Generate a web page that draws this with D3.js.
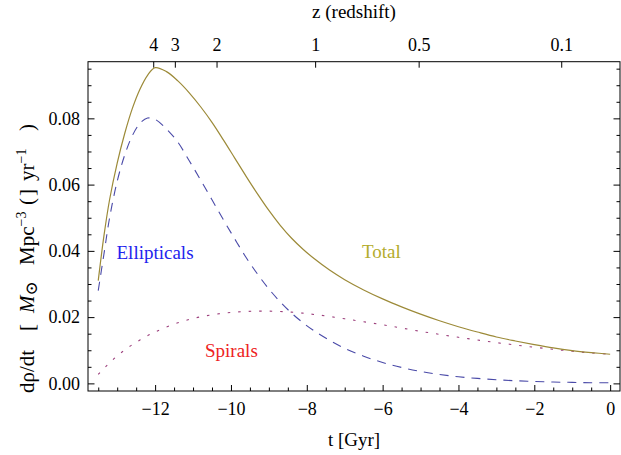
<!DOCTYPE html>
<html>
<head>
<meta charset="utf-8">
<script src="https://cdn.jsdelivr.net/npm/d3@7/dist/d3.min.js"></script>
<style>
  body { margin: 0; background: #fff; }
  svg text { font-family: "Liberation Serif", "DejaVu Serif", serif; }
</style>
</head>
<body>
<svg id="sfr_chart" width="621" height="455"></svg>
<script>
// lookback time t [Gyr]
var tGyr = [-13.5, -13.35, -13.2, -13.0, -12.8, -12.6, -12.4, -12.2, -12.0, -11.7, -11.4, -11.1, -10.8, -10.5, -10.2, -9.9, -9.6, -9.3, -9.0, -8.7, -8.4, -8.1, -7.8, -7.4, -7.0, -6.5, -6.0, -5.5, -5.0, -4.5, -4.0, -3.5, -3.0, -2.5, -2.0, -1.5, -1.0, -0.5, 0]

var total = [0.031, 0.0445, 0.0555, 0.0665, 0.0755, 0.0830, 0.0888, 0.0930, 0.0953, 0.0941, 0.0913, 0.0877, 0.0835, 0.0788, 0.0735, 0.0680, 0.0625, 0.0572, 0.0522, 0.0477, 0.0438, 0.0405, 0.0376, 0.0342, 0.0313, 0.0282, 0.0255, 0.0231, 0.0209, 0.0189, 0.0171, 0.0155, 0.0140, 0.0128, 0.0117, 0.0107, 0.0099, 0.0093, 0.0088]

var ellipticals = [0.028, 0.039, 0.050, 0.061, 0.069, 0.0748, 0.0785, 0.0801, 0.0797, 0.0768, 0.0728, 0.0672, 0.0614, 0.0554, 0.0494, 0.0436, 0.0380, 0.0330, 0.0285, 0.0246, 0.0212, 0.0183, 0.0158, 0.0130, 0.0106, 0.0082, 0.0063, 0.0048, 0.0036, 0.0027, 0.0020, 0.0015, 0.0011, 0.0008, 0.0006, 0.0004, 0.0003, 0.0002, 0.0002]

var spirals = [0.0027, 0.0045, 0.0062, 0.0083, 0.0101, 0.0117, 0.0131, 0.0144, 0.0155, 0.0170, 0.0183, 0.0193, 0.0201, 0.0207, 0.0212, 0.0215, 0.0217, 0.0218, 0.0218, 0.0217, 0.0215, 0.0212, 0.0208, 0.0202, 0.0195, 0.0186, 0.0177, 0.0167, 0.0157, 0.0148, 0.0139, 0.0131, 0.0123, 0.0116, 0.0109, 0.0103, 0.0097, 0.0092, 0.0088]

// axis ticks
var xMajor = [-12, -10, -8, -6, -4, -2, 0]
var yMajor = [0, 0.02, 0.04, 0.06, 0.08]
var zLabels = ['4', '3', '2', '1', '0.5', '0.1']
var zAtT = [-12.05, -11.48, -10.38, -7.78, -5.05, -1.29]

var svg = d3.select('#sfr_chart')
var serif = '"Liberation Serif", "DejaVu Serif", serif'

var plotL = 88, plotR = 620, plotT = 61.7, plotB = 391

var x = d3.scaleLinear().domain([-13.77, 0.26]).range([plotL, plotR])
var y = d3.scaleLinear().domain([-0.0023, 0.0971]).range([plotB, plotT])

var xMinor = d3.range(-13.5, 0.01, 0.5).filter(function (v) { return Math.abs(v % 2) > 0.01 })
var yMinor = d3.range(0, 0.0971, 0.005).filter(function (v) { return Math.round(v * 1000) % 20 !== 0 })

function fmtMinus (v) { return v < 0 ? '\u2212' + Math.abs(v) : '' + v }

/** bottom axis */
svg.append('g').attr('transform', 'translate(0,' + plotB + ')')
  .call(d3.axisBottom(x).tickValues(xMajor).tickFormat(fmtMinus).tickSizeInner(-6).tickSizeOuter(0).tickPadding(11.5))
svg.append('g').attr('transform', 'translate(0,' + plotB + ')')
  .call(d3.axisBottom(x).tickValues(xMinor).tickFormat('').tickSizeInner(-3.5).tickSizeOuter(0))

/** top axis (redshift) */
svg.append('g').attr('transform', 'translate(0,' + plotT + ')')
  .call(d3.axisTop(x).tickValues(zAtT).tickFormat(function (d, i) { return zLabels[i] }).tickSizeInner(-6).tickSizeOuter(0).tickPadding(11))

/** left axis */
svg.append('g').attr('transform', 'translate(' + plotL + ',0)')
  .call(d3.axisLeft(y).tickValues(yMajor).tickFormat(d3.format('.2f')).tickSizeInner(-6.5).tickSizeOuter(0).tickPadding(8))
svg.append('g').attr('transform', 'translate(' + plotL + ',0)')
  .call(d3.axisLeft(y).tickValues(yMinor).tickFormat('').tickSizeInner(-3.5).tickSizeOuter(0))

/** right axis, ticks only */
svg.append('g').attr('transform', 'translate(' + plotR + ',0)')
  .call(d3.axisRight(y).tickValues(yMajor).tickFormat('').tickSizeInner(-6.5).tickSizeOuter(0))
svg.append('g').attr('transform', 'translate(' + plotR + ',0)')
  .call(d3.axisRight(y).tickValues(yMinor).tickFormat('').tickSizeInner(-3.5).tickSizeOuter(0))

svg.selectAll('.domain').remove()
svg.selectAll('g').attr('font-family', null).attr('font-size', null)
svg.selectAll('.tick line').attr('stroke', '#000').attr('stroke-width', 1)
svg.selectAll('.tick text').style('font-family', serif).style('font-size', '18px').attr('fill', '#000')

/** frame */
svg.append('rect').attr('x', plotL).attr('y', plotT).attr('width', plotR - plotL).attr('height', plotB - plotT)
  .attr('fill', 'none').attr('stroke', '#000').attr('stroke-width', 1)

/** curves */
function lineFor (vals) {
  return d3.line().x(function (d, i) { return x(tGyr[i]) }).y(function (d) { return y(d) }).curve(d3.curveCatmullRom.alpha(0.5))(vals)
}

svg.append('path').attr('d', lineFor(spirals))
  .attr('fill', 'none').attr('stroke', '#9c3f7c').attr('stroke-width', 1.1).attr('stroke-dasharray', '2.5,8')
svg.append('path').attr('d', lineFor(ellipticals))
  .attr('fill', 'none').attr('stroke', '#4a4aa8').attr('stroke-width', 1.1).attr('stroke-dasharray', '9,7')
svg.append('path').attr('d', lineFor(total))
  .attr('fill', 'none').attr('stroke', '#9c8a38').attr('stroke-width', 1.2)

/** labels in the plot */
svg.append('text').attr('x', 116.5).attr('y', 258.5).text('Ellipticals').style('font-size', '19px').attr('fill', '#2222ee')
svg.append('text').attr('x', 205).attr('y', 357).text('Spirals').style('font-size', '19px').attr('fill', '#ee2222')
svg.append('text').attr('x', 362).attr('y', 257.5).text('Total').style('font-size', '19px').attr('fill', '#b3ac2c')

/** axis titles */
svg.append('text').attr('x', 354).attr('y', 446).attr('text-anchor', 'middle').style('font-size', '19px').text('t [Gyr]')
svg.append('text').attr('x', 354).attr('y', 18).attr('text-anchor', 'middle').style('font-size', '19px').text('z (redshift)')

/** y title, pieces placed along the rotated baseline */
var ylab = svg.append('text').attr('transform', 'translate(34,393) rotate(-90)').style('font-size', '21px')
ylab.append('tspan').attr('x', 0).text('d\u03c1/dt')
ylab.append('tspan').attr('x', 62).text('[')
ylab.append('tspan').attr('x', 80).style('font-style', 'italic').text('M')
ylab.append('tspan').attr('dy', 3).style('font-size', '17px').text('\u2299')
ylab.append('tspan').attr('x', 128).attr('dy', -3).text('Mpc')
ylab.append('tspan').attr('dy', -8).style('font-size', '14px').text('\u22123')
ylab.append('tspan').attr('x', 188).attr('dy', 8).text('(')
ylab.append('tspan').attr('x', 197).text(']')
ylab.append('tspan').attr('x', 212).text('yr')
ylab.append('tspan').attr('dy', -8).style('font-size', '14px').text('\u22121')
ylab.append('tspan').attr('x', 262).attr('dy', 8).text(')')
</script>
</body>
</html>
